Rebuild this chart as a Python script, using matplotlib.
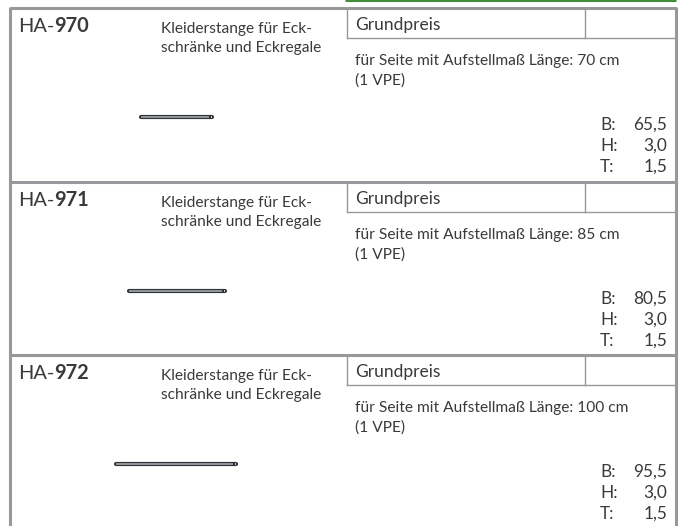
import matplotlib
matplotlib.use("Agg")
import matplotlib.pyplot as plt

codes = ["970", "971", "972"]
lengths = ["70", "85", "100"]
widths = ["65,5", "80,5", "95,5"]
heights = ["3,0", "3,0", "3,0"]
depths = ["1,5", "1,5", "1,5"]
row_tops = [8, 182, 355]
rod_spans = [(141, 212), (129, 225), (116, 236)]

FONT = "Lato"
TXT = "#3a3a3a"
GRID = "#96989b"

fig = plt.figure(figsize=(6.83, 5.26), dpi=100)
ax = fig.add_axes([0, 0, 1, 1])
ax.set_xlim(0, 683)
ax.set_ylim(526, 0)
ax.axis("off")

L, R = 10, 675.5
ax.plot([345, 676], [0, 0], color="#3f8f3a", lw=2.2, solid_capstyle="butt")
ax.plot([L, L], [7, 526], color=GRID, lw=2.2, solid_capstyle="butt")
ax.plot([R, R], [7, 526], color=GRID, lw=2.2, solid_capstyle="butt")


def t(x, y, s, size, **kw):
    return ax.text(x, y, s, fontsize=size, family=FONT, color=TXT, va="baseline", **kw)


for i, top in enumerate(row_tops):
    ax.plot([L, R], [top, top], color=GRID, lw=2.2, solid_capstyle="butt")
    ax.plot([347, 347], [top, top + 30], color=GRID, lw=1.0)
    ax.plot([584.5, 584.5], [top, top + 30], color=GRID, lw=1.0)
    ax.plot([347, R], [top + 30, top + 30], color=GRID, lw=1.0)

    a = t(18, top + 24, "HA-", 14.4)
    fig.canvas.draw()
    bb = a.get_window_extent()
    t(bb.x1, top + 24, codes[i], 14.4, weight="bold")

    t(161, top + 25, "Kleiderstange für Eck-", 11.2)
    t(161, top + 44, "schränke und Eckregale", 11.2)
    t(355, top + 22, "Grundpreis", 12.5)
    t(355, top + 57, f"für Seite mit Aufstellmaß Länge: {lengths[i]} cm", 11.2)
    t(355, top + 77, "(1 VPE)", 11.2)

    for j, (lab, val) in enumerate(zip("BHT", (widths[i], heights[i], depths[i]))):
        y = top + 122 + j * 21
        t(600, y, f"{lab}:", 12.4)
        t(667, y, val, 12.4, ha="right")

    x0, x1 = rod_spans[i]
    yc = top + 109
    ax.plot([x0, x1], [yc, yc], color="#2f3338", lw=3.0, solid_capstyle="round")
    ax.plot([x0, x1 - 3], [yc, yc], color="#a4a7ab", lw=1.2, solid_capstyle="butt")
    ax.plot([x1 - 1, x1], [yc, yc], color="#e6e6e6", lw=1.2, solid_capstyle="butt")

fig.savefig("out.png", dpi=100)
